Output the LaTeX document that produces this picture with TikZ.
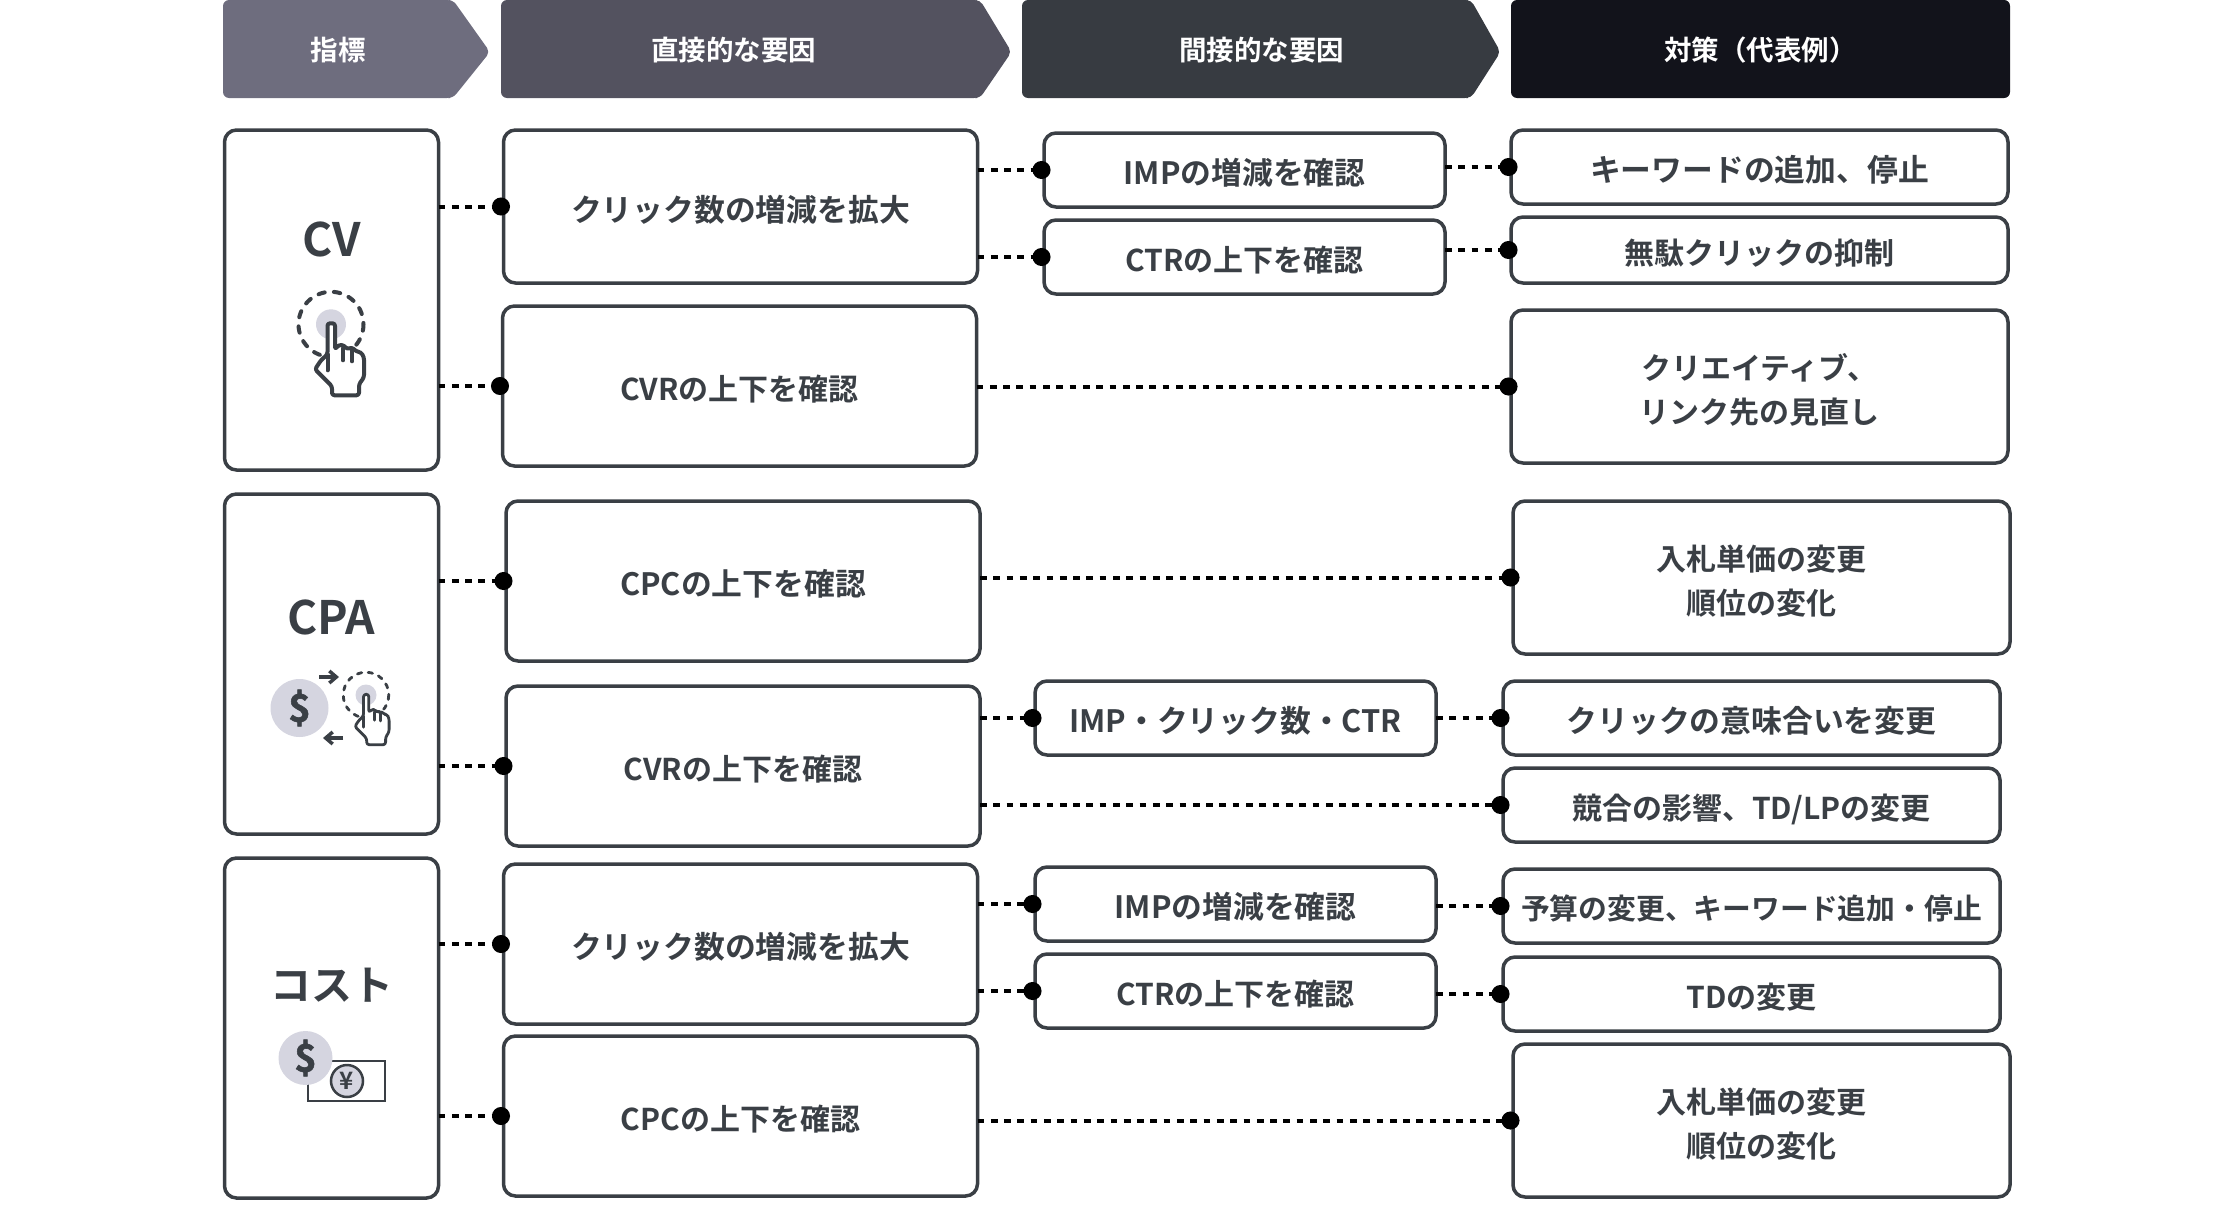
\documentclass[tikz,border=0pt]{standalone}
\usepackage{fontspec}
\setmainfont{Noto Sans CJK JP}[BoldFont={Noto Sans CJK JP Bold}]
\usetikzlibrary{positioning,arrows.meta}
\definecolor{inkC}{HTML}{3A3F45}
\definecolor{softC}{HTML}{D5D5E0}
\definecolor{headA}{HTML}{6E6D7E}
\definecolor{headB}{HTML}{53525F}
\definecolor{headC}{HTML}{373B41}
\definecolor{headD}{HTML}{12131B}

\begin{document}
\begin{tikzpicture}[
    x=1pt,y=-1pt,
    node distance=24pt,
    box/.style={rectangle,rounded corners=12pt,draw=inkC,line width=3.5pt,fill=white,inner sep=0pt,outer sep=0pt,
      text=inkC,align=center,font=\bfseries\fontsize{30}{44}\selectfont,
      execute at begin node={\vrule width 0pt height 1.26em depth 0pt},
      execute at end node={\vrule width 0pt height 0pt depth 0.3em}},
    wide/.style={font=\bfseries\fontsize{30.8}{44}\selectfont},
    twolines/.style={execute at begin node={\vrule width 0pt height 2.75em depth 0pt}},
    cellA/.style={box,minimum width=214pt,minimum height=340pt},
    cellB/.style={box,minimum width=474pt,minimum height=160pt},
    cellC/.style={box,minimum width=401pt,minimum height=74pt},
    cellD/.style={box,minimum width=497pt,minimum height=74pt},
    head/.style={rectangle,rounded corners=6pt,inner sep=0pt,outer sep=0pt,minimum height=98pt,
      label distance=0pt},
    headtext/.style={yshift=-1.5pt,text=white,font=\bfseries\fontsize{27.5}{32}\selectfont},
    title/.style={inner sep=0pt,text=inkC,font=\bfseries\fontsize{46}{50}\selectfont},
    coin/.style={circle,fill=softC,inner sep=0pt,text=inkC,
      font=\bfseries\fontsize{38}{40}\selectfont\addfontfeature{FakeBold=1.5}},
    link/.style={black,line width=4pt,dash pattern=on 6.7pt off 6.6pt,shorten >=-6.5pt,
      -{Circle[length=18pt,width=18pt]}},
    mini/.style={inkC,line width=3.5pt,-{Straight Barb[length=7pt,width=12pt]}},
    clickicon/.pic={
      \fill[softC] (0,0) circle (15);
      \draw[inkC,line cap=round,dash pattern=on 1.6\pgflinewidth off 2.3\pgflinewidth] (0,0) circle (32.5);
      \draw[inkC,fill=white,rounded corners=2.5pt,line join=round]
        (1,71) -- (1,62) -- (-16,45) -- (-10,36) -- (-3.5,30) -- (-3.5,-1) -- (4,-1) -- (4,25) -- (8,20.5)
        -- (13,21) -- (16,25) -- (21,23) -- (25,27) -- (30,28) -- (33,33) -- (33,53)
        -- (28,60) -- (28,71) -- cycle;
      \draw[inkC,line cap=round] (-3.5,30) -- (-3.5,46) (12,24) -- (12,36) (21,26) -- (21,37);
    }]
    \useasboundingbox (0,0) rectangle (2240,1210);

    \node[head,fill=headA,minimum width=230pt,label={[headtext]center:指標}] (H1) at (338,49) {};
    \node[head,fill=headB,minimum width=479pt,label={[headtext,xshift=-7pt]center:直接的な要因}] (H2) at (740.5,49) {};
    \node[head,fill=headC,minimum width=449pt,label={[headtext,xshift=15pt]center:間接的な要因}] (H3) at (1246.5,49) {};
    \node[head,fill=headD,minimum width=499pt,label={[headtext]center:対策（代表例）}] (H4) at (1760.5,49) {};
    \fill[headA,rounded corners=5pt] (H1.north east) ++(-8,0) -- ++(8,0) -- ++(37,52) -- ++(-37,46) -- ++(-8,0) -- cycle;
    \fill[headB,rounded corners=5pt] (H2.north east) ++(-8,0) -- ++(8,0) -- ++(31.5,52) -- ++(-31.5,46) -- ++(-8,0) -- cycle;
    \fill[headC,rounded corners=5pt] (H3.north east) ++(-8,0) -- ++(8,0) -- ++(29.5,52) -- ++(-29.5,46) -- ++(-8,0) -- cycle;

    \node[cellA] (A1) at (331.5,300) {};
    \node[cellA] (A2) [below=24pt of A1] {};
    \node[cellA] (A3) [below=24pt of A2] {};

    \node[cellB,wide,minimum height=153pt] (B1) at (740.5,206.5) {クリック数の増減を拡大};
    \node[cellB] (B2) [below=23pt of B1,xshift=-1pt] {CVRの上下を確認};
    \node[cellB,wide] (B3) [below=35pt of B2,xshift=3.5pt] {CPCの上下を確認};
    \node[cellB] (B4) [below=25pt of B3] {CVRの上下を確認};
    \node[cellB,wide] (B5) [below=18pt of B4,xshift=-2.5pt] {クリック数の増減を拡大};
    \node[cellB] (B6) [below=12pt of B5] {CPCの上下を確認};

    \node[cellC,wide] (C1) at (1244.5,170) {IMPの増減を確認};
    \node[cellC] (C2) [below=13pt of C1] {CTRの上下を確認};
    \node[cellC,wide] (C3) [below=387pt of C2,xshift=-9pt] {IMP・クリック数・CTR};
    \node[cellC,wide] (C4) [below=112pt of C3] {IMPの増減を確認};
    \node[cellC] (C5) [below=13pt of C4] {CTRの上下を確認};

    \node[cellD,wide] (D1) at (1759.5,167) {キーワードの追加、停止};
    \node[cellD,minimum height=66pt] (D2) [below=13pt of D1] {無駄クリックの抑制};
    \node[cellD,twolines,minimum height=153pt] (D3) [below=27pt of D2] {クリエイティブ、\\リンク先の見直し};
    \node[cellD,twolines,minimum height=153pt] (D4) [below=38pt of D3,xshift=2pt] {入札単価の変更\\順位の変化};
    \node[cellD,wide] (D5) [below=27pt of D4,xshift=-10pt] {クリックの意味合いを変更};
    \node[cellD] (D6) [below=13pt of D5] {競合の影響、TD/LPの変更};
    \node[cellD,font=\bfseries\fontsize{28.8}{44}\selectfont] (D7) [below=27pt of D6] {予算の変更、キーワード追加・停止};
    \node[cellD] (D8) [below=14pt of D7] {TDの変更};
    \node[cellD,twolines,minimum height=153pt] (D9) [below=13pt of D8,xshift=10pt] {入札単価の変更\\順位の変化};

    \draw[link] (A1.east |- B1.west) -- (B1.west);
    \draw[link] (A1.east |- B2.west) -- (B2.west);
    \draw[link] (A2.east |- B3.west) -- (B3.west);
    \draw[link] (A2.east |- B4.west) -- (B4.west);
    \draw[link] (A3.east |- B5.west) -- (B5.west);
    \draw[link] (A3.east |- B6.west) -- (B6.west);
    \draw[link] (B1.east |- C1.west) -- (C1.west);
    \draw[link] (B1.east |- C2.west) -- (C2.west);
    \draw[link] (B4.east |- C3.west) -- (C3.west);
    \draw[link] (B5.east |- C4.west) -- (C4.west);
    \draw[link] (B5.east |- C5.west) -- (C5.west);
    \draw[link] (C1.east |- D1.west) -- (D1.west);
    \draw[link] (C2.east |- D2.west) -- (D2.west);
    \draw[link] (B2.east |- D3.west) -- (D3.west);
    \draw[link] (B3.east |- D4.west) -- (D4.west);
    \draw[link] (C3.east |- D5.west) -- (D5.west);
    \draw[link] (B4.east |- D6.west) -- (D6.west);
    \draw[link] (C4.east |- D7.west) -- (D7.west);
    \draw[link] (C5.east |- D8.west) -- (D8.west);
    \draw[link] (B6.east |- D9.west) -- (D9.west);

    \node[title] (T1) at (331.5,239) {CV};
    \pic[line width=4pt] at (331,324.3) {clickicon};

    \node[title] (T2) at (331.5,617) {CPA};
    \node[coin,minimum size=58pt] (M2) at (299.5,708) {\$};
    \coordinate (P1) at (319,677);
    \coordinate (P2) at (339,677);
    \coordinate (P3) at (343,738);
    \coordinate (P4) at (323,738);
    \draw[mini] (P1) -- (P2);
    \draw[mini] (P3) -- (P4);
    \pic[line width=2.8pt,scale=0.7] at (366,695) {clickicon};

    \node[title,font=\bfseries\fontsize{41}{50}\selectfont] (T3) at (331.5,985) {コスト};
    \draw[inkC,line width=2.5pt] (308,1061) rectangle (385,1101);
    \node[coin,minimum size=54pt] (M3) at (305.5,1058) {\$};
    \node[circle,draw=inkC,fill=softC,line width=2.5pt,minimum size=32pt,inner sep=0pt,text=inkC,
      font=\bfseries\fontsize{24}{26}\selectfont] (Y3) at (347,1081) {¥};
  \end{tikzpicture}
\end{document}
